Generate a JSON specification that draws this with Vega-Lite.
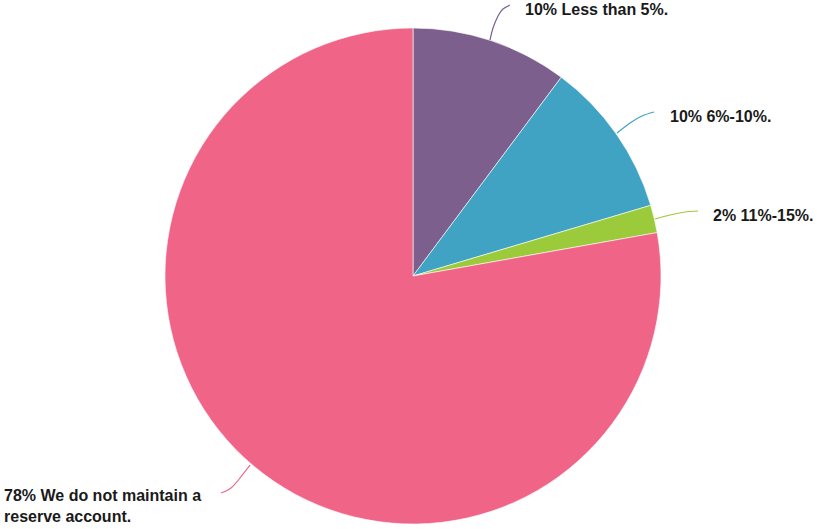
{
  "$schema": "https://vega.github.io/schema/vega-lite/v6.json",
  "width": 826,
  "height": 552,
  "padding": 0,
  "autosize": "none",
  "background": "white",
  "config": {"view": {"stroke": null}},
  "datasets": {
    "slices": [
      {"category": "Less than 5%.", "pct": 10.2, "order": 1},
      {"category": "6%-10%.", "pct": 10.2, "order": 2},
      {"category": "11%-15%.", "pct": 1.8, "order": 3},
      {"category": "We do not maintain a reserve account.", "pct": 77.8, "order": 4}
    ],
    "leaders": [
      {"category": "Less than 5%.", "i": 1, "px": 77, "py": 236},
      {"category": "Less than 5%.", "i": 2, "px": 80, "py": 248},
      {"category": "Less than 5%.", "i": 3, "px": 85, "py": 260},
      {"category": "Less than 5%.", "i": 4, "px": 90, "py": 267},
      {"category": "Less than 5%.", "i": 5, "px": 97, "py": 271},
      {"category": "6%-10%.", "i": 1, "px": 204, "py": 143},
      {"category": "6%-10%.", "i": 2, "px": 217, "py": 153},
      {"category": "6%-10%.", "i": 3, "px": 229, "py": 160},
      {"category": "6%-10%.", "i": 4, "px": 241, "py": 164},
      {"category": "11%-15%.", "i": 1, "px": 242, "py": 57},
      {"category": "11%-15%.", "i": 2, "px": 257, "py": 61},
      {"category": "11%-15%.", "i": 3, "px": 272, "py": 64},
      {"category": "11%-15%.", "i": 4, "px": 285, "py": 65},
      {"category": "We do not maintain a reserve account.", "i": 1, "px": -163, "py": -189},
      {"category": "We do not maintain a reserve account.", "i": 2, "px": -173, "py": -202},
      {"category": "We do not maintain a reserve account.", "i": 3, "px": -182, "py": -212},
      {"category": "We do not maintain a reserve account.", "i": 4, "px": -192, "py": -217}
    ],
    "labels": [
      {"label": "10% Less than 5%.", "px": 112, "py": 266},
      {"label": "10% 6%-10%.", "px": 257, "py": 159},
      {"label": "2% 11%-15%.", "px": 300, "py": 60},
      {"label": "78% We do not maintain a\nreserve account.", "px": -409, "py": -220}
    ]
  },
  "layer": [
    {
      "data": {"name": "slices"},
      "mark": {"type": "arc", "outerRadius": 248, "stroke": "white", "strokeWidth": 0.6},
      "encoding": {
        "theta": {"field": "pct", "type": "quantitative", "stack": true},
        "order": {"field": "order", "type": "quantitative"},
        "color": {
          "field": "category",
          "type": "nominal",
          "legend": null,
          "scale": {
            "domain": ["Less than 5%.", "6%-10%.", "11%-15%.", "We do not maintain a reserve account."],
            "range": ["#7d5f8e", "#41a3c4", "#9bcb3b", "#f06488"]
          }
        }
      }
    },
    {
      "data": {"name": "leaders"},
      "mark": {"type": "line", "interpolate": "natural", "strokeWidth": 1.2},
      "encoding": {
        "x": {"field": "px", "type": "quantitative", "axis": null, "scale": {"domain": [-413, 413], "nice": false, "zero": false}},
        "y": {"field": "py", "type": "quantitative", "axis": null, "scale": {"domain": [-276, 276], "nice": false, "zero": false}},
        "detail": {"field": "category"},
        "order": {"field": "i", "type": "quantitative"},
        "color": {"field": "category", "type": "nominal", "legend": null}
      }
    },
    {
      "data": {"name": "labels"},
      "mark": {"type": "text", "align": "left", "baseline": "middle", "font": "Liberation Sans", "fontWeight": "bold", "fontSize": 16, "lineBreak": "\n", "lineHeight": 21, "color": "#1a1a1a"},
      "encoding": {
        "x": {"field": "px", "type": "quantitative"},
        "y": {"field": "py", "type": "quantitative"},
        "text": {"field": "label"}
      }
    }
  ]
}
